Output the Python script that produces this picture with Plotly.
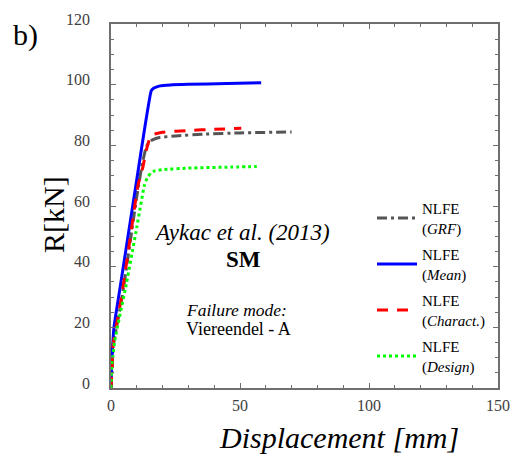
import plotly.graph_objects as go

# Load-displacement curves (displacement in mm, resistance R in kN)
grf_x = [0, 0.4, 0.9, 4.3, 10.5, 12.4, 13.7, 15.0, 16.5, 18.8, 25, 36.7, 50, 70]
grf_y = [0, 6, 14, 30, 66, 75, 79.6, 81.3, 82.0, 82.6, 83.1, 83.7, 84.1, 84.4]

mean_x = [0, 0.3, 1.15, 3.5, 9.5, 15.6, 16.5, 17.5, 19, 23, 30, 45, 58.2]
mean_y = [0, 8, 20, 33, 66, 98.0, 98.8, 99.2, 99.6, 99.9, 100.1, 100.4, 100.6]

char_x = [0, 0.4, 0.9, 4.1, 10.5, 12.4, 13.7, 15.0, 16.0, 20, 30, 40, 50.5]
char_y = [0, 6, 14.8, 30, 67, 73, 78.5, 82.2, 83.5, 84.3, 84.9, 85.3, 85.6]

design_x = [0, 0.3, 1.5, 6, 10, 13, 14.3, 15.5, 16.9, 20, 30, 45, 56.5]
design_y = [0, 7, 15.8, 34.5, 53, 67, 69.7, 70.8, 71.6, 72.0, 72.5, 72.8, 73.0]

x_ticks = [0, 50, 100, 150]
y_ticks = [0, 20, 40, 60, 80, 100, 120]

SERIF = "Liberation Serif"
W, H = 510, 457
ML, MR, MT, MB = 111, 12, 24, 69
PW, PH = W - ML - MR, H - MT - MB


def px(x, y):
    """Convert page pixel position to paper coordinates."""
    return (x - ML) / PW, (H - MB - y) / PH


fig = go.Figure()

series = [
    ("NLFE<br>(<i>GRF</i>)", grf_x, grf_y, "#555555", "10px,4px,3px,4px", "g1"),
    ("NLFE<br>(<i>Mean</i>)", mean_x, mean_y, "#0000ff", "solid", "g2"),
    ("NLFE<br>(<i>Charact.</i>)", char_x, char_y, "#ff0000", "11px,9px", "g3"),
    ("NLFE<br>(<i>Design</i>)", design_x, design_y, "#00ff00", "dot", "g4"),
]
for name, xs, ys, color, dash, grp in series:
    fig.add_trace(go.Scatter(
        x=xs, y=ys, mode="lines", name=name, legendgroup=grp,
        line=dict(color=color, width=3, dash=dash, shape="spline", smoothing=0.4),
    ))

axis_common = dict(
    showgrid=False, zeroline=False, showline=True, mirror="allticks",
    linecolor="#6f6f6f", linewidth=1.8, ticks="inside", ticklen=5,
    tickcolor="#6f6f6f", tickwidth=1.2, ticklabeloverflow="allow",
    tickfont=dict(family=SERIF, size=16, color="#404040"),
)

fig.update_xaxes(
    range=[0, 150], tickvals=x_ticks, ticktext=[str(v) for v in x_ticks],
    minor=dict(dtick=10, ticks="inside", ticklen=3, tickcolor="#6f6f6f"),
    ticklabelstandoff=2,
    **axis_common,
)
fig.update_yaxes(
    range=[0, 120], tickvals=y_ticks, ticktext=[str(v) for v in y_ticks],
    minor=dict(dtick=5, ticks="inside", ticklen=3, tickcolor="#6f6f6f"),
    ticklabelshift=-5, ticklabelstandoff=16,
    **axis_common,
)


def note(text, x, y, size, xanchor="center", angle=0):
    ax, ay = px(x, y)
    return dict(text=text, x=ax, y=ay, xref="paper", yref="paper",
                xanchor=xanchor, yanchor="middle", showarrow=False,
                textangle=angle,
                font=dict(family=SERIF, size=size, color="black"))


annotations = [
    note("b)", 25.5, 35, 30),
    note("R[kN]", 53, 215, 30, angle=-90),
    note("<i>Displacement [mm]</i>", 339, 437, 30),
    note("<i>Aykac et al. (2013)</i>", 242, 232, 23),
    note("<b>SM</b>", 243.5, 259, 23),
    note("<i>Failure mode:</i>", 184, 310, 17.5, xanchor="left"),
    note("Viereendel - A", 184, 329, 18, xanchor="left"),
]

lx, ly = px(372, 192)
fig.update_layout(
    width=W, height=H,
    margin=dict(l=ML, r=MR, t=MT, b=MB, autoexpand=False),
    paper_bgcolor="white", plot_bgcolor="white",
    annotations=annotations,
    showlegend=True,
    legend=dict(
        x=lx, y=ly, xanchor="left", yanchor="top",
        bgcolor="rgba(0,0,0,0)", borderwidth=0,
        font=dict(family=SERIF, size=15, color="black"),
        tracegroupgap=4, traceorder="grouped", itemwidth=40,
        valign="middle",
    ),
)

fig.write_html("out.html")
